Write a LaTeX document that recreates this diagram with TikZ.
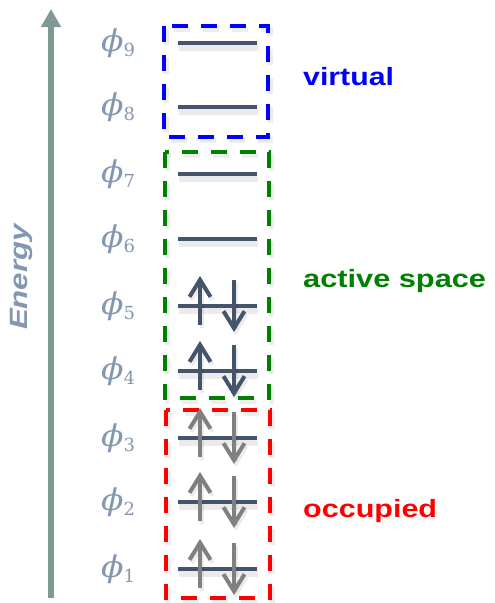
\documentclass[tikz,border=0pt]{standalone}
\usepackage[no-math]{fontspec}
\newfontfamily\lblfont{Liberation Sans}
\newfontfamily\phifont{DejaVu Serif}
\usetikzlibrary{arrows.meta}
\definecolor{axiscol}{HTML}{7F9A95}
\definecolor{phicol}{HTML}{8497B0}
\definecolor{levelcol}{HTML}{44546A}
\definecolor{occcol}{HTML}{808080}
\definecolor{vircol}{HTML}{0000FF}
\definecolor{actcol}{HTML}{008000}
\definecolor{occbox}{HTML}{FF0000}
\tikzset{
  level/.style={draw=levelcol, line width=4pt},
  softshadow/.style={draw=black, opacity=0.08, line width=7pt},
  spin/.style={line width=4pt, -{Straight Barb[length=17pt,width=21pt]}},
  spinshadow/.style={spin, draw=black, opacity=0.08},
  region/.style={line width=3.5pt, dash pattern=on 16pt off 13pt},
  regionshadow/.style={region, draw=black, opacity=0.07, line width=5pt},
  orbital/.style={text=phicol, inner sep=0pt},
  tag/.style={anchor=base west, inner sep=0pt, font=\lblfont\bfseries\fontsize{25}{30}\selectfont},
}
\newcommand{\orbname}[1]{{\phifont\itshape\fontsize{30}{34}\selectfont\scalebox{1.1}[1]{ϕ}}\raisebox{-5.5pt}{\phifont\fontsize{18}{20}\selectfont #1}}
\begin{document}
\begin{tikzpicture}[x=1pt, y=-1pt]
  \useasboundingbox (0,0) rectangle (495,603);

  % energy axis
  \coordinate (axisbot) at (51,598);
  \coordinate (axistop) at (51,9);
  \draw[axiscol, line width=5.7pt, -{Triangle[length=18pt,width=19pt]}] (axisbot) -- (axistop);
  \node[rotate=90, text=phicol, inner sep=0pt] (energy) at (21,277)
    {\lblfont\bfseries\itshape\fontsize{25}{29}\selectfont\scalebox{1.25}[1]{Energy}};

  % dashed region frames (soft shadow first)
  \draw[regionshadow] (166,29) rectangle (270,140);
  \draw[regionshadow] (167,155) rectangle (271,401);
  \draw[regionshadow] (168,413) rectangle (272,601);
  \draw[region, draw=vircol] (164,26) rectangle (268,137);
  \draw[region, draw=actcol] (165,152) rectangle (269,398);
  \draw[region, draw=occbox] (166,410) rectangle (270,598);

  % orbital levels with labels
  \foreach \i/\y in {1/569,2/502,3/438,4/371,5/306,6/239,7/174,8/107,9/43}{
    \coordinate (l\i w) at (178,\y);
    \coordinate (l\i e) at (257,\y);
    \draw[softshadow] ([shift={(1,4)}]l\i w) -- ([shift={(1,4)}]l\i e);
    \draw[level] (l\i w) -- (l\i e);
    \node[orbital] (phi\i) at (118,\y) {\orbname{\i}};
  }

  % electron pairs: active orbitals dark, occupied core grey
  \foreach \i/\y/\c in {1/569/occcol,2/502/occcol,3/438/occcol,4/371/levelcol,5/306/levelcol}{
    \coordinate (up\i a) at (200,\y+19);
    \coordinate (up\i b) at (200,\y-30);
    \coordinate (dn\i a) at (234,\y-26);
    \coordinate (dn\i b) at (234,\y+26);
    \draw[spinshadow] ([shift={(2,3)}]up\i a) -- ([shift={(2,3)}]up\i b);
    \draw[spinshadow] ([shift={(2,3)}]dn\i a) -- ([shift={(2,3)}]dn\i b);
    \draw[spin, draw=\c] (up\i a) -- (up\i b);
    \draw[spin, draw=\c] (dn\i a) -- (dn\i b);
  }

  % region names
  \node[tag, text=vircol] (virtual) at (303,85) {\scalebox{1.21}[1]{virtual}};
  \node[tag, text=actcol] (active) at (303,287) {\scalebox{1.23}[1]{active space}};
  \node[tag, text=occbox] (occupied) at (303,517) {\scalebox{1.22}[1]{occupied}};
\end{tikzpicture}
\end{document}
